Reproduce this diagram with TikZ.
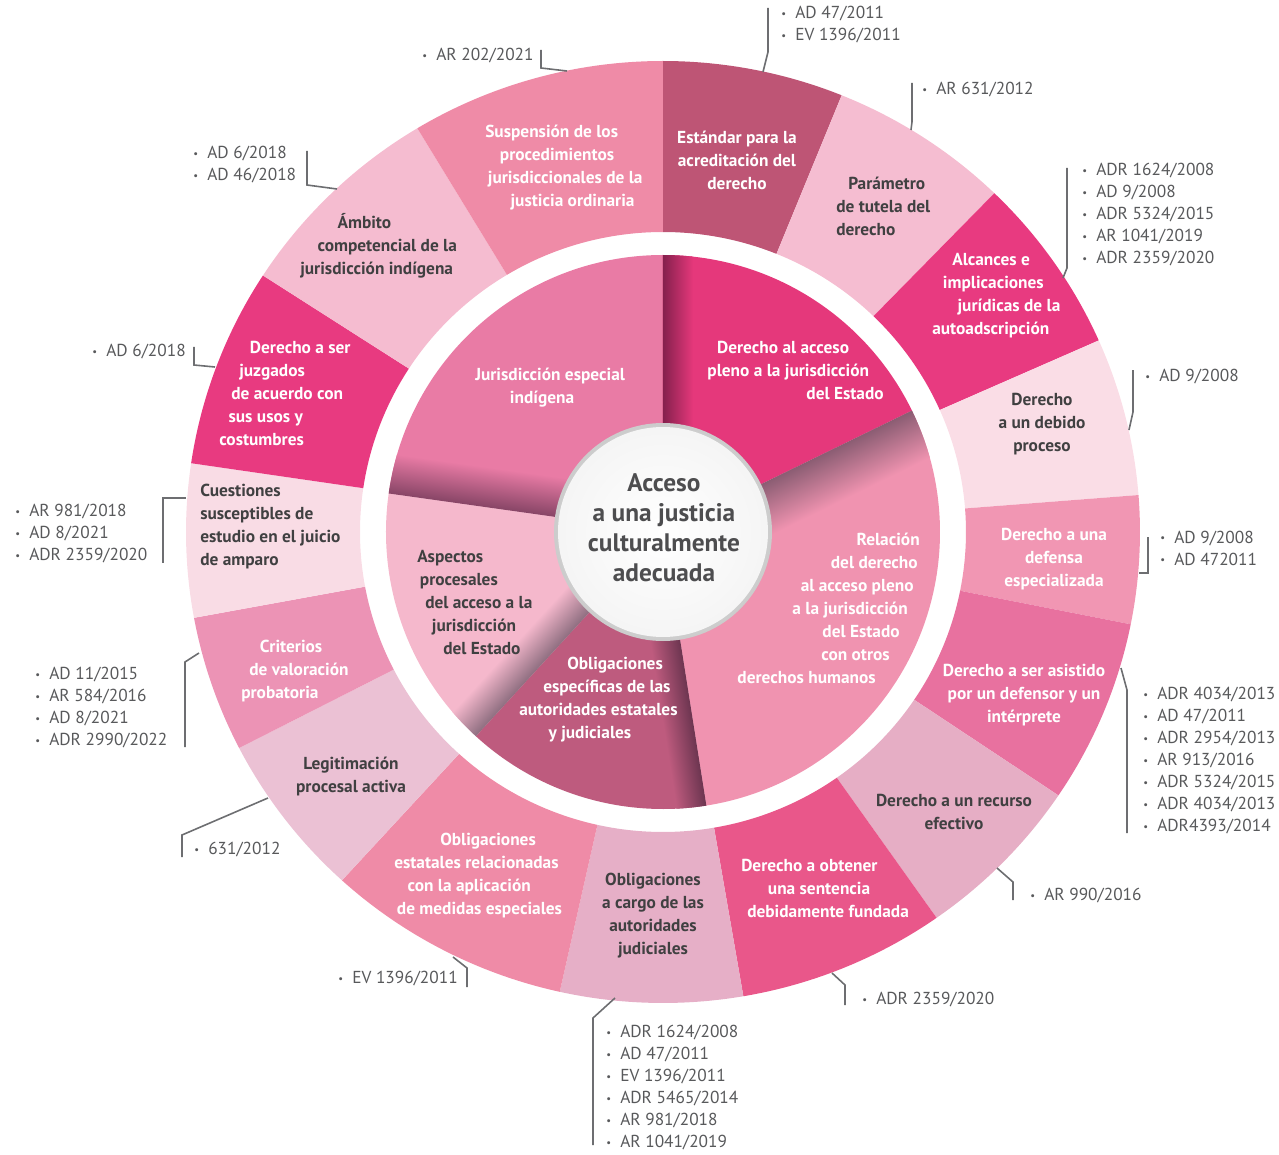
\documentclass[tikz,border=0pt]{standalone}
\usepackage{fontspec}
\setmainfont{PT Sans}
\definecolor{suspcol}{RGB}{239,139,167}
\definecolor{estcol}{RGB}{190,85,117}
\definecolor{paracol}{RGB}{245,189,209}
\definecolor{alcol}{RGB}{232,58,128}
\definecolor{debcol}{RGB}{250,221,230}
\definecolor{defcol}{RGB}{241,150,179}
\definecolor{asiscol}{RGB}{232,113,159}
\definecolor{reccol}{RGB}{230,174,197}
\definecolor{obtcol}{RGB}{233,87,138}
\definecolor{cargocol}{RGB}{230,175,199}
\definecolor{estatcol}{RGB}{239,139,167}
\definecolor{legcol}{RGB}{235,193,212}
\definecolor{critcol}{RGB}{236,147,181}
\definecolor{cuescol}{RGB}{249,220,229}
\definecolor{juzcol}{RGB}{232,58,128}
\definecolor{ambcol}{RGB}{245,188,208}
\definecolor{jurcol}{RGB}{233,123,165}
\definecolor{aspcol}{RGB}{245,184,204}
\definecolor{oblcol}{RGB}{190,91,126}
\definecolor{relcol}{RGB}{240,147,176}
\definecolor{acccol}{RGB}{229,56,123}
\definecolor{jursh}{RGB}{135,69,102}
\definecolor{aspsh}{RGB}{142,110,128}
\definecolor{oblsh}{RGB}{108,53,80}
\definecolor{relsh}{RGB}{139,93,115}
\definecolor{accsh}{RGB}{133,32,77}
\definecolor{labdark}{RGB}{64,64,65}
\definecolor{citegray}{RGB}{88,89,91}
\definecolor{leadgray}{RGB}{109,110,113}
\definecolor{centertext}{RGB}{77,77,79}
\newcommand{\bul}{\makebox[10.5pt][l]{\raisebox{0.2ex}{\footnotesize\textbullet}}}
\newcommand{\pad}[1]{\rule{#1}{0pt}}

\begin{document}
\begin{tikzpicture}[
			x=0.75pt, y=0.75pt,
			lab/.style={
				font=\fontsize{13}{17.25}\selectfont\bfseries,
				text=white,
				align=center,
				inner sep=0pt
			},
			labd/.style={
				lab,
				text=labdark
			},
			ragged/.style={
				align=left,
				anchor=west
			},
			cite/.style={
				font=\fontsize{13}{16.5}\selectfont,
				text=citegray,
				align=left,
				inner sep=0pt,
				anchor=west
			},
			leader/.style={
				draw=leadgray,
				line width=1.2pt
			}
			]
			\useasboundingbox (-663,-622) rectangle (616,532);
			
			% Outer ring
			\foreach \a/\b/\col in {68/90/estcol, 46/68/paracol, 24/46/alcol, 4.5/24/debcol,
				-11.3/4.5/defcol, -34/-11.3/asiscol, -55/-34/reccol, -80.3/-55/obtcol,
				-102.5/-80.3/cargocol, -132.3/-102.5/estatcol, -152.7/-132.3/legcol,
				-169.5/-152.7/critcol, -188.4/-169.5/cuescol, -213/-188.4/juzcol,
				-239/-213/ambcol, -270/-239/suspcol}
			\fill[\col] (\a:303 and 300) arc[start angle=\a, end angle=\b, x radius=303, y radius=300]
			-- (\b:477 and 471) arc[start angle=\b, end angle=\a, x radius=477, y radius=471] -- cycle;
			
			% Inner pie
			\foreach \a/\b/\col in {90/172/jurcol, 172/227.5/aspcol, 227.5/279/oblcol,
				279/386/relcol, 386/450/acccol}
			\fill[\col] (0,0) -- (\a:277) arc[start angle=\a, end angle=\b, radius=277] -- cycle;
			
			% Folds of the inner pie
			\foreach \a/\b/\w/\col/\sh in {90/172/40/jurcol/jursh, 172/227.5/34/aspcol/aspsh,
				227.5/279/30/oblcol/oblsh, 279/386/50/relcol/relsh, 386/450/30/acccol/accsh}
			{
				\begin{scope}
					\clip (0,0) -- (\a:277) arc[start angle=\a, end angle=\b, radius=277] -- cycle;
					\begin{scope}[transform canvas={rotate=\b}]
						\shade[top color=\sh, bottom color=\col] (0,-\w) rectangle (285,0);
					\end{scope}
				\end{scope}
			}
			
			% Centre
			\shade[inner color=gray!20, outer color=gray!40] (0,0) circle[radius=109];
			\shade[inner color=white, outer color=gray!8] (0,0) circle[radius=105];
			\node[lab, text=centertext, font=\fontsize{19}{22.5}\selectfont\bfseries] (centre) at (1,4)
			{Acceso\\a una justicia\\culturalmente\\adecuada};
			
			% Inner labels
			\node[lab, ragged] (jur) at (-188,144.5) {Jurisdicción especial\\\pad{26pt}indígena};
			\node[labd, ragged] (asp) at (-246,-71)
			{Aspectos\\\pad{2pt}procesales\\\pad{6pt}del acceso a la\\\pad{11pt}jurisdicción\\\pad{19.5pt}del Estado};
			\node[lab, ragged] (obl) at (-144,-167.5)
			{\pad{36pt}Obligaciones\\\pad{18pt}específicas de las\\autoridades estatales\\\pad{22pt}y judiciales};
			\node[lab, align=right, anchor=east] (rel) at (257,-76)
			{Relación\\del derecho\pad{1.5pt}\\al acceso pleno\pad{4.5pt}\\a la jurisdicción\pad{9pt}\\del Estado\pad{15pt}\\con otros\pad{22.5pt}\\derechos humanos\pad{33pt}};
			\node[lab, align=right, anchor=east] (acc) at (221,162)
			{Derecho al acceso\pad{26pt}\\pleno a la jurisdicción\pad{11pt}\\del Estado};
			
			% Outer labels
			\node[lab] (est) at (74,372) {Estándar para la\\acreditación del\\derecho};
			\node[labd, ragged] (par) at (173,326) {\pad{9pt}Parámetro\\de tutela del\\derecho};
			\node[lab, ragged] (alc) at (269,236) {\pad{15pt}Alcances e\\\pad{8pt}implicaciones\\\pad{19pt}jurídicas de la\\autoadscripción};
			\node[labd] (deb) at (379,108) {Derecho\\a un debido\\proceso};
			\node[lab] (def) at (391,-27) {Derecho a una\\defensa\\especializada};
			\node[lab] (asis) at (361,-163) {Derecho a ser asistido\\por un defensor y un\\intérprete};
			\node[labd] (rec) at (291,-280) {Derecho a un recurso\\efectivo};
			\node[lab, ragged] (obt) at (78,-356) {Derecho a obtener\\\pad{20pt}una sentencia\\\pad{4.5pt}debidamente fundada};
			\node[labd] (cargo) at (-10,-384) {Obligaciones\\a cargo de las\\autoridades\\judiciales};
			\node[lab, ragged] (estat) at (-269,-344)
			{\pad{34.5pt}Obligaciones\\estatales relacionadas\\\pad{10pt}con la aplicación\\\pad{2pt}de medidas especiales};
			\node[labd] (leg) at (-312,-244) {Legitimación\\procesal activa};
			\node[lab, ragged] (crit) at (-422,-139) {\pad{14pt}Criterios\\\pad{6pt}de valoración\\probatoria};
			\node[labd, ragged] (cues) at (-463,5.5) {Cuestiones\\susceptibles de\\estudio en el juicio\\de amparo};
			\node[lab, ragged] (juz) at (-444,139)
			{\pad{23pt}Derecho a ser\\\pad{15pt}juzgados\\\pad{9pt}de acuerdo con\\\pad{7pt}sus usos y\\costumbres};
			\node[labd, ragged] (amb) at (-363,286) {\pad{28pt}Ámbito\\\pad{13pt}competencial de la\\jurisdicción indígena};
			\node[lab, ragged] (susp) at (-178,364.5)
			{Suspensión de los\\\pad{11pt}procedimientos\\\pad{2pt}jurisdiccionales de la\\\pad{19pt}justicia ordinaria};
			
			% Rulings
			\node[cite] (c1) at (-241,476) {\bul AR 202/2021};
			\node[cite] (c2) at (118,507) {\bul AD 47/2011\\\bul EV 1396/2011};
			\node[cite] (c3) at (259,442) {\bul AR 631/2012};
			\node[cite] (c4) at (419,317) {\bul ADR 1624/2008\\\bul AD 9/2008\\\bul ADR 5324/2015\\\bul AR 1041/2019\\\bul ADR 2359/2020};
			\node[cite] (c5) at (482,155) {\bul AD 9/2008};
			\node[cite] (c6) at (497,-16) {\bul AD 9/2008\\\bul AD 472011};
			\node[cite] (c7) at (480,-229) {\bul ADR 4034/2013\\\bul AD 47/2011\\\bul ADR 2954/2013\\\bul AR 913/2016\\\bul ADR 5324/2015\\\bul ADR 4034/2013\\\bul ADR4393/2014};
			\node[cite] (c8) at (367,-364) {\bul AR 990/2016};
			\node[cite] (c9) at (199,-468) {\bul ADR 2359/2020};
			\node[cite] (c10) at (-57,-556) {\bul ADR 1624/2008\\\bul AD 47/2011\\\bul EV 1396/2011\\\bul ADR 5465/2014\\\bul AR 981/2018\\\bul AR 1041/2019};
			\node[cite] (c11) at (-325,-447) {\bul EV 1396/2011};
			\node[cite] (c12) at (-469,-318) {\bul 631/2012};
			\node[cite] (c13) at (-628,-176) {\bul AD 11/2015\\\bul AR 584/2016\\\bul AD 8/2021\\\bul ADR 2990/2022};
			\node[cite] (c14) at (-648,-2) {\bul AR 981/2018\\\bul AD 8/2021\\\bul ADR 2359/2020};
			\node[cite] (c15) at (-571,180) {\bul AD 6/2018};
			\node[cite] (c16) at (-470,367) {\bul AD 6/2018\\\bul AD 46/2018};
			
			% Leaders
			\foreach \n/\ra/\rb/\ka/\kb/\ea/\eb in {1/-96/461/-122/464/-122/482, 2/100/460/105/480/105/524,
				3/248/402/249/410/249/449, 4/400/254/404/264/404/364, 5/466/102/470/120/470/162,
				6/476/-41/485/-41/485/-5, 7/458/-136/464/-158/464/-301, 8/334/-336/350/-350/350/-368,
				9/169/-441/182/-453/182/-473, 10/-48/-466/-70/-486/-70/-613, 11/-210/-425/-196/-436/-196/-455,
				12/-395/-266/-481/-303/-481/-325, 13/-464/-121/-478/-130/-478/-215, 14/-477/34/-500/34/-500/-31,
				15/-448/165/-469/167/-469/185, 16/-326/343/-356/347/-356/381}
			{
				\coordinate (r\n) at (\ra,\rb);
				\coordinate (k\n) at (\ka,\kb);
				\coordinate (e\n) at (\ea,\eb);
				\draw[leader] (r\n) -- (k\n) -- (e\n);
			}
		\end{tikzpicture}
\end{document}
